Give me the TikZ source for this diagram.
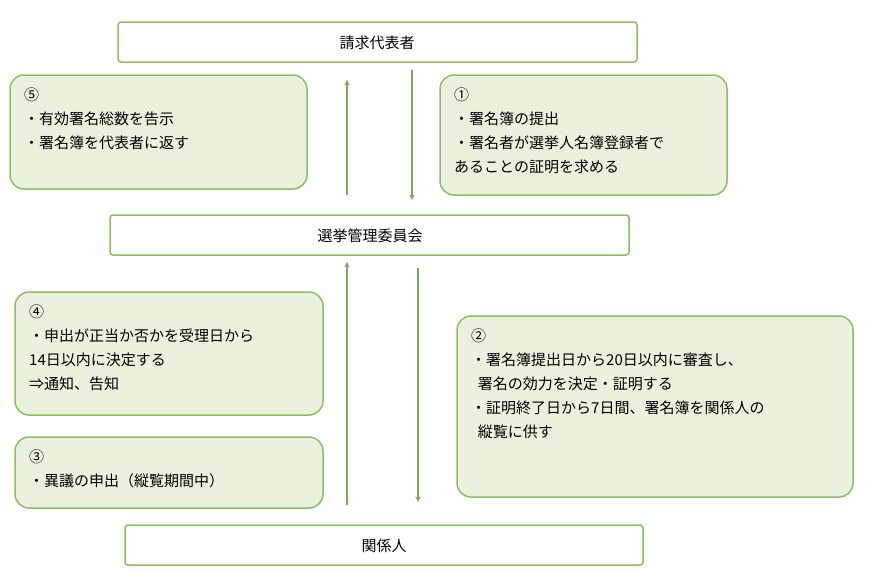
\documentclass[tikz,border=0pt]{standalone}
\usepackage{fontspec}
\setmainfont{Noto Sans CJK JP}
\begin{document}
\begin{tikzpicture}[x=1pt,y=-1pt,
  bar/.style={draw={rgb,255:red,140;green,190;blue,100},line width=1.5pt,fill=white,rounded corners=3pt},
  box/.style={draw={rgb,255:red,140;green,190;blue,100},line width=1.5pt,fill={rgb,255:red,235;green,241;blue,222},rounded corners=14pt},
  txt/.style={anchor=north west,align=left,font=\fontsize{15}{24}\selectfont,inner sep=0pt},
  lab/.style={font=\fontsize{15}{18}\selectfont},
  arr/.style={draw={rgb,255:red,120;green,170;blue,90},line width=1.4pt,-stealth}]
\useasboundingbox (0,0) rectangle (881,571);
\draw[bar] (118,22) rectangle (637,62); \node[lab] (a) at (377,43) {請求代表者};
\draw[bar] (110,215) rectangle (629,255); \node[lab] (b) at (370,236) {選挙管理委員会};
\draw[bar] (125,525) rectangle (643,565); \node[lab] (c) at (384,546) {関係人};
\draw[box] (10,75) rectangle (307,189);
\node[txt] (t5) at (24,88) {⑤\\・有効署名総数を告示\\・署名簿を代表者に返す};
\draw[box] (440,75) rectangle (727,195);
\node[txt] (t1) at (454,88) {①\\・署名簿の提出\\・署名者が選挙人名簿登録者で\\あることの証明を求める};
\draw[box] (15,292) rectangle (323,415);
\node[txt] (t4) at (29,305) {④\\・申出が正当か否かを受理日から\\14日以内に決定する\\⇒通知、告知};
\draw[box] (15,437) rectangle (323,508);
\node[txt] (t3) at (29,450) {③\\・異議の申出（縦覧期間中）};
\draw[box] (457,316) rectangle (853,497);
\node[txt] (t2) at (471,329) {②\\・署名簿提出日から20日以内に審査し、\\\ \ 署名の効力を決定・証明する\\・証明終了日から7日間、署名簿を関係人の\\\ \ 縦覧に供す};
\coordinate (u1s) at (347,195); \coordinate (u1e) at (347,80);
\coordinate (d1s) at (412,70); \coordinate (d1e) at (412,200);
\coordinate (u2s) at (347,505); \coordinate (u2e) at (347,262);
\coordinate (d2s) at (418,268); \coordinate (d2e) at (418,502);
\draw[arr] (u1s) -- (u1e);
\draw[arr] (d1s) -- (d1e);
\draw[arr] (u2s) -- (u2e);
\draw[arr] (d2s) -- (d2e);
\end{tikzpicture}
\end{document}
